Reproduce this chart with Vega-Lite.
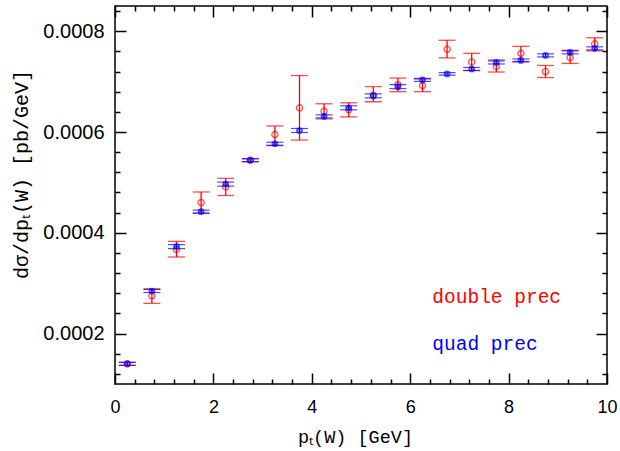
{
  "$schema": "https://vega.github.io/schema/vega-lite/v6.json",
  "width": 492,
  "height": 378,
  "autosize": {"type": "none"},
  "padding": {"left": 115, "top": 6, "right": 13, "bottom": 67},
  "background": "#ffffff",
  "config": {"view": {"stroke": "#000000", "strokeWidth": 1.5}},
  "resolve": {"axis": {"x": "independent", "y": "independent"}},
  "data": {"values": [
    {"series": "double", "pt": 0.25, "value": 0.000140, "lo": 0.000137, "hi": 0.000143},
    {"series": "double", "pt": 0.75, "value": 0.000275, "lo": 0.000260, "hi": 0.000289},
    {"series": "double", "pt": 1.25, "value": 0.000367, "lo": 0.000352, "hi": 0.000383},
    {"series": "double", "pt": 1.75, "value": 0.000460, "lo": 0.000439, "hi": 0.000481},
    {"series": "double", "pt": 2.25, "value": 0.000491, "lo": 0.000474, "hi": 0.000508},
    {"series": "double", "pt": 2.75, "value": 0.000544, "lo": 0.000541, "hi": 0.000547},
    {"series": "double", "pt": 3.25, "value": 0.000595, "lo": 0.000573, "hi": 0.000612},
    {"series": "double", "pt": 3.75, "value": 0.000648, "lo": 0.000584, "hi": 0.000712},
    {"series": "double", "pt": 4.25, "value": 0.000641, "lo": 0.000626, "hi": 0.000656},
    {"series": "double", "pt": 4.75, "value": 0.000644, "lo": 0.000630, "hi": 0.000658},
    {"series": "double", "pt": 5.25, "value": 0.000673, "lo": 0.000660, "hi": 0.000690},
    {"series": "double", "pt": 5.75, "value": 0.000694, "lo": 0.000680, "hi": 0.000707},
    {"series": "double", "pt": 6.25, "value": 0.000692, "lo": 0.000680, "hi": 0.000705},
    {"series": "double", "pt": 6.75, "value": 0.000764, "lo": 0.000747, "hi": 0.000782},
    {"series": "double", "pt": 7.25, "value": 0.000739, "lo": 0.000722, "hi": 0.000756},
    {"series": "double", "pt": 7.75, "value": 0.000730, "lo": 0.000719, "hi": 0.000743},
    {"series": "double", "pt": 8.25, "value": 0.000756, "lo": 0.000740, "hi": 0.000770},
    {"series": "double", "pt": 8.75, "value": 0.000720, "lo": 0.000708, "hi": 0.000732},
    {"series": "double", "pt": 9.25, "value": 0.000748, "lo": 0.000736, "hi": 0.000762},
    {"series": "double", "pt": 9.75, "value": 0.000775, "lo": 0.000761, "hi": 0.000787},
    {"series": "quad", "pt": 0.25, "value": 0.000140, "lo": 0.000137, "hi": 0.000143},
    {"series": "quad", "pt": 0.75, "value": 0.0002845, "lo": 0.0002815, "hi": 0.0002875},
    {"series": "quad", "pt": 1.25, "value": 0.0003726, "lo": 0.0003686, "hi": 0.0003766},
    {"series": "quad", "pt": 1.75, "value": 0.000442, "lo": 0.000439, "hi": 0.000445},
    {"series": "quad", "pt": 2.25, "value": 0.0004966, "lo": 0.0004926, "hi": 0.0005006},
    {"series": "quad", "pt": 2.75, "value": 0.000544, "lo": 0.000541, "hi": 0.000547},
    {"series": "quad", "pt": 3.25, "value": 0.0005767, "lo": 0.0005737, "hi": 0.0005797},
    {"series": "quad", "pt": 3.75, "value": 0.000603, "lo": 0.000599, "hi": 0.000607},
    {"series": "quad", "pt": 4.25, "value": 0.000631, "lo": 0.000628, "hi": 0.000634},
    {"series": "quad", "pt": 4.75, "value": 0.000648, "lo": 0.000644, "hi": 0.000652},
    {"series": "quad", "pt": 5.25, "value": 0.0006716, "lo": 0.0006676, "hi": 0.0006756},
    {"series": "quad", "pt": 5.75, "value": 0.000690, "lo": 0.000686, "hi": 0.000694},
    {"series": "quad", "pt": 6.25, "value": 0.0007034, "lo": 0.0007004, "hi": 0.0007064},
    {"series": "quad", "pt": 6.75, "value": 0.0007153, "lo": 0.0007128, "hi": 0.0007178},
    {"series": "quad", "pt": 7.25, "value": 0.000725, "lo": 0.000722, "hi": 0.000728},
    {"series": "quad", "pt": 7.75, "value": 0.000738, "lo": 0.000735, "hi": 0.000741},
    {"series": "quad", "pt": 8.25, "value": 0.000742, "lo": 0.000739, "hi": 0.000745},
    {"series": "quad", "pt": 8.75, "value": 0.000752, "lo": 0.000749, "hi": 0.000755},
    {"series": "quad", "pt": 9.25, "value": 0.000758, "lo": 0.000755, "hi": 0.000761},
    {"series": "quad", "pt": 9.75, "value": 0.000766, "lo": 0.000763, "hi": 0.000769}
  ]},
  "layer": [
    {
      "transform": [{"filter": "datum.series === 'double'"}],
      "mark": {"type": "rule", "color": "#ff0000", "strokeWidth": 1.3},
      "encoding": {
        "x": {"field": "pt", "type": "quantitative", "scale": {"domain": [0, 10], "nice": false, "zero": false},
          "axis": {"orient": "bottom", "values": [0, 2, 4, 6, 8, 10], "format": "d",
            "tickSize": -11, "tickColor": "#000000", "tickWidth": 1.5, "domain": false, "grid": false,
            "labelFont": "Liberation Sans", "labelFontSize": 18, "labelColor": "#000000", "labelPadding": 25,
            "labelFlush": false, "labelOverlap": false,
            "title": "pₜ(W) [GeV]", "titleFont": "Liberation Mono", "titleFontSize": 18.5, "titleFontWeight": "normal",
            "titleColor": "#000000", "titleX": 240, "titleY": 58, "titleBaseline": "alphabetic", "titleAlign": "center"}},
        "y": {"field": "lo", "type": "quantitative", "scale": {"domain": [0.0001, 0.00085], "nice": false, "zero": false},
          "axis": {"orient": "left", "values": [0.0002, 0.0004, 0.0006, 0.0008], "format": ".4f",
            "tickSize": -11, "tickColor": "#000000", "tickWidth": 1.5, "domain": false, "grid": false,
            "labelFont": "Liberation Sans", "labelFontSize": 20, "labelColor": "#000000", "labelPadding": 22,
            "labelOverlap": false,
            "title": "dσ/dpₜ(W) [pb/GeV]", "titleFont": "Liberation Mono", "titleFontSize": 20, "titleFontWeight": "normal",
            "titleColor": "#000000", "titleX": -94, "titleY": 168, "titleAngle": -90, "titleBaseline": "middle", "titleAlign": "center"}},
        "y2": {"field": "hi"}
      }
    },
    {
      "transform": [{"filter": "datum.series === 'double'"}],
      "mark": {"type": "tick", "orient": "horizontal", "color": "#ff0000", "size": 17, "thickness": 1.3},
      "encoding": {
        "x": {"field": "pt", "type": "quantitative",
          "axis": {"orient": "bottom", "values": [0.4,0.8,1.2,1.6,2.4,2.8,3.2,3.6,4.4,4.8,5.2,5.6,6.4,6.8,7.2,7.6,8.4,8.8,9.2,9.6],
            "labels": false, "title": null, "domain": false, "grid": false,
            "tickSize": -5, "tickColor": "#000000", "tickWidth": 1.5}},
        "y": {"field": "lo", "type": "quantitative",
          "axis": {"orient": "left", "values": [0.00012,0.00016,0.00024,0.00028,0.00032,0.00036,0.00044,0.00048,0.00052,0.00056,0.00064,0.00068,0.00072,0.00076,0.00084],
            "labels": false, "title": null, "domain": false, "grid": false,
            "tickSize": -5, "tickColor": "#000000", "tickWidth": 1.5}}
      }
    },
    {
      "transform": [{"filter": "datum.series === 'double'"}],
      "mark": {"type": "tick", "orient": "horizontal", "color": "#ff0000", "size": 17, "thickness": 1.3},
      "encoding": {
        "x": {"field": "pt", "type": "quantitative", "axis": null},
        "y": {"field": "hi", "type": "quantitative", "axis": null}
      }
    },
    {
      "transform": [{"filter": "datum.series === 'double'"}],
      "mark": {"type": "point", "shape": "circle", "filled": false, "color": "#ff0000", "size": 38, "strokeWidth": 1.3},
      "encoding": {
        "x": {"field": "pt", "type": "quantitative", "axis": null},
        "y": {"field": "value", "type": "quantitative", "axis": null}
      }
    },
    {
      "transform": [{"filter": "datum.series === 'quad'"}],
      "mark": {"type": "rule", "color": "#0000ff", "strokeWidth": 1.3},
      "encoding": {
        "x": {"field": "pt", "type": "quantitative",
          "axis": {"orient": "top", "values": [0, 2, 4, 6, 8, 10],
            "labels": false, "title": null, "domain": false, "grid": false,
            "tickSize": -11, "tickColor": "#000000", "tickWidth": 1.5}},
        "y": {"field": "lo", "type": "quantitative",
          "axis": {"orient": "right", "values": [0.0002, 0.0004, 0.0006, 0.0008],
            "labels": false, "title": null, "domain": false, "grid": false,
            "tickSize": -11, "tickColor": "#000000", "tickWidth": 1.5}},
        "y2": {"field": "hi"}
      }
    },
    {
      "transform": [{"filter": "datum.series === 'quad'"}],
      "mark": {"type": "tick", "orient": "horizontal", "color": "#0000ff", "size": 17, "thickness": 1.2},
      "encoding": {
        "x": {"field": "pt", "type": "quantitative",
          "axis": {"orient": "top", "values": [0.4,0.8,1.2,1.6,2.4,2.8,3.2,3.6,4.4,4.8,5.2,5.6,6.4,6.8,7.2,7.6,8.4,8.8,9.2,9.6],
            "labels": false, "title": null, "domain": false, "grid": false,
            "tickSize": -5, "tickColor": "#000000", "tickWidth": 1.5}},
        "y": {"field": "lo", "type": "quantitative",
          "axis": {"orient": "right", "values": [0.00012,0.00016,0.00024,0.00028,0.00032,0.00036,0.00044,0.00048,0.00052,0.00056,0.00064,0.00068,0.00072,0.00076,0.00084],
            "labels": false, "title": null, "domain": false, "grid": false,
            "tickSize": -5, "tickColor": "#000000", "tickWidth": 1.5}}
      }
    },
    {
      "transform": [{"filter": "datum.series === 'quad'"}],
      "mark": {"type": "tick", "orient": "horizontal", "color": "#0000ff", "size": 17, "thickness": 1.2},
      "encoding": {
        "x": {"field": "pt", "type": "quantitative", "axis": null},
        "y": {"field": "hi", "type": "quantitative", "axis": null}
      }
    },
    {
      "transform": [{"filter": "datum.series === 'quad'"}],
      "mark": {"type": "point", "shape": "circle", "filled": false, "color": "#0000ff", "size": 22, "strokeWidth": 2},
      "encoding": {
        "x": {"field": "pt", "type": "quantitative", "axis": null},
        "y": {"field": "value", "type": "quantitative", "axis": null}
      }
    },
    {
      "data": {"values": [{"label": "double prec"}]},
      "mark": {"type": "text", "color": "#ff0000", "font": "Liberation Mono", "fontSize": 19.5, "fontWeight": "normal", "align": "left", "baseline": "middle"},
      "encoding": {
        "text": {"field": "label"},
        "x": {"datum": 6.45, "type": "quantitative", "axis": null},
        "y": {"datum": 0.000273, "type": "quantitative", "axis": null}
      }
    },
    {
      "data": {"values": [{"label": "quad prec"}]},
      "mark": {"type": "text", "color": "#0000ff", "font": "Liberation Mono", "fontSize": 19.5, "fontWeight": "normal", "align": "left", "baseline": "middle"},
      "encoding": {
        "text": {"field": "label"},
        "x": {"datum": 6.45, "type": "quantitative", "axis": null},
        "y": {"datum": 0.000180, "type": "quantitative", "axis": null}
      }
    }
  ]
}
